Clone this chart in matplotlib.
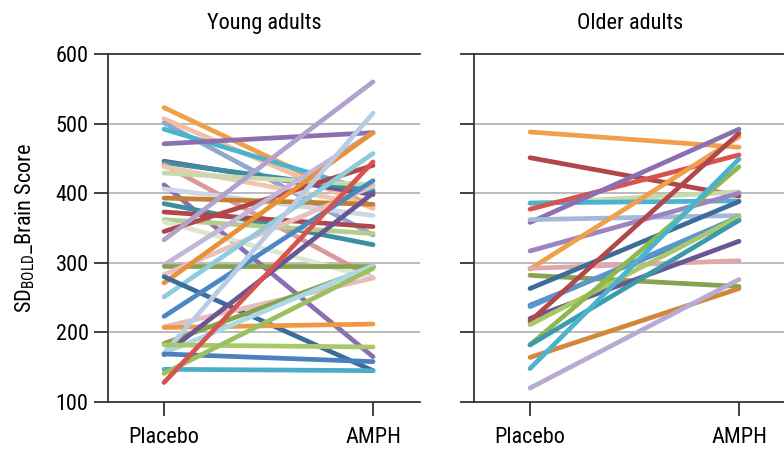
import matplotlib
matplotlib.use("Agg")
import matplotlib.pyplot as plt

plt.rcParams['font.family'] = ['Roboto Condensed', 'DejaVu Sans']
plt.rcParams['mathtext.fontset'] = 'custom'
plt.rcParams['mathtext.rm'] = 'Roboto Condensed'
plt.rcParams['mathtext.it'] = 'Roboto Condensed'

condicoes = ["Placebo", "AMPH"]
titulos = ["Young adults", "Older adults"]
rotulo_y = r"SD$_{\mathrm{BOLD}}$_Brain Score"
ticks_y = [100, 200, 300, 400, 500, 600]

# jovens: placebo, amph, cor
jovens_placebo = [523, 507, 501, 492, 471, 446, 444, 441, 438, 429, 412, 406, 393, 385,
                  373, 362, 359, 345, 333, 297, 296, 283, 271, 251, 280, 223, 208, 207,
                  184, 168, 170, 170, 169, 182, 147, 141, 128]
jovens_amph = [381, 378, 340, 402, 487, 398, 404, 278, 382, 412, 165, 368, 384, 326,
               352, 342, 278, 440, 560, 487, 296, 410, 487, 457, 145, 418, 278, 212,
               294, 400, 515, 296, 158, 179, 145, 292, 445]
jovens_cores = ['#f0a04b', '#f4bfa0', '#8fa8d0', '#4ab3cf', '#8b6fb0', '#6a5694', '#3b8fa0',
                '#d89a9a', '#f2c6ac', '#c9d9ae', '#8b6fb0', '#cfd6e6', '#c47f35', '#3b8fa0',
                '#b0474a', '#b5cc8c', '#dde6cf', '#b0474a', '#b0a2cc', '#c3b6d6', '#87a24a',
                '#e8c0c0', '#e8913a', '#8ecbdb', '#3a6d9a', '#4a88c4', '#e6bcc0', '#ee9a45',
                '#87a24a', '#6a5694', '#b8cce6', '#a9d9e6', '#4a80bc', '#a8c86a', '#4aaec8',
                '#9cc060', '#d6534f']

idosos_placebo = [488, 451, 385, 386, 377, 358, 362, 317, 291, 292, 282, 263, 239, 237,
                  220, 216, 211, 182, 182, 164, 148, 120]
idosos_amph = [466, 396, 402, 389, 455, 492, 368, 400, 481, 303, 266, 388, 361, 366,
               331, 486, 366, 438, 361, 263, 449, 276]
idosos_cores = ['#f0a04b', '#b0474a', '#c9d9ae', '#4ab3cf', '#d6534f', '#8b6fb0', '#a4b8d8',
                '#9b84c0', '#f0a04b', '#e0a8a8', '#87a24a', '#3a6d9a', '#4a88c4', '#5a96cc',
                '#6a5694', '#b0474a', '#a8c86a', '#8fb850', '#3b9aae', '#d0883a', '#4ab3cf',
                '#b8aad0']

fig = plt.figure(figsize=(7.84, 4.49), dpi=100)
ax1 = fig.add_axes([0.1378, 0.1047, 0.398, 0.775])
ax2 = fig.add_axes([0.6046, 0.1047, 0.398, 0.775])

grupos = [(ax1, jovens_placebo, jovens_amph, jovens_cores),
          (ax2, idosos_placebo, idosos_amph, idosos_cores)]

for i, (ax, pla, amph, cores) in enumerate(grupos):
    for p, a, c in zip(pla, amph, cores):
        ax.plot([0, 1], [p, a], color=c, lw=3.4, solid_capstyle='round', zorder=3)
    ax.set_xlim(-0.268, 1.225)
    ax.set_ylim(100, 600)
    ax.set_yticks(ticks_y)
    ax.set_xticks([0, 1])
    ax.set_xticklabels(condicoes, fontsize=16)
    for t in ticks_y[1:-1]:
        ax.axhline(t, color='#b5b5b5', lw=1.3, zorder=1)
    ax.spines['right'].set_visible(False)
    for s in ['top', 'bottom', 'left']:
        ax.spines[s].set_color('#333333')
        ax.spines[s].set_linewidth(1.3)
    ax.tick_params(axis='y', length=10, width=1.3, color='#333333', labelsize=16, pad=4)
    ax.tick_params(axis='x', length=10, width=1.3, color='#333333', labelsize=16, pad=8)
    ax.set_title(titulos[i], fontsize=16, pad=18)
    if i == 1:
        ax.set_yticklabels([])

ax1.set_ylabel(rotulo_y, fontsize=16, labelpad=13)

fig.savefig("out.png", dpi=100)
